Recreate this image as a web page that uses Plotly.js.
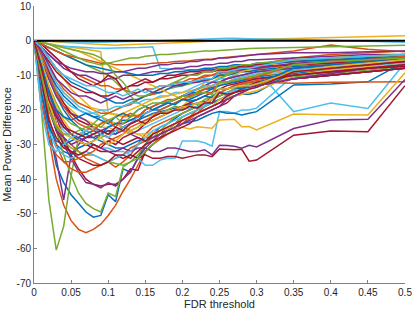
<!DOCTYPE html>
<html>
<head>
<meta charset="utf-8">
<script src="https://cdn.plot.ly/plotly-3.0.1.min.js"></script>
<style>html,body{margin:0;padding:0;background:#fff;}#chart{width:415px;height:312px;}</style>
</head>
<body>
<div id="chart"></div>
<script>
// FDR thresholds (x values shared by all series)
const fdrThreshold = [0,0.01,0.02,0.03,0.04,0.05,0.06,0.07,0.08,0.09,0.10,0.11,0.12,0.13,0.14,0.15,0.16,0.17,0.18,0.19,0.20,0.21,0.22,0.23,0.24,0.25,0.26,0.27,0.28,0.29,0.30,0.35,0.40,0.45,0.50];

// Mean power difference series
const s01 = [0,-10,-25,-36,-41,-44.5,-47,-49.5,-51,-50.5,-44.5,-46.5,-37,-38,-34,-30,-27,-25,-24,-22.5,-21,-20,-19,-18,-17,-16,-15,-14,-13.5,-13,-12.5,-11,-10,-9,-8];
const s02 = [0,-12,-28,-40,-47.5,-52,-54.5,-55.5,-54.5,-53,-50.5,-47.5,-43.5,-40,-36,-32,-30,-28.5,-27,-25.5,-24,-22.5,-21,-19,-17,-15,-14,-13,-12.5,-12,-11.5,-10,-9,-8,-7];
const s03 = [0,-0.5,-1,-1.3,-1.6,-1.8,-2.2,-2.5,-2.8,-3.2,-21,-21.3,-21.5,-21.6,-21.8,-22,-21.5,-21,-20.5,-20,-19,-17,-15,-12,-11,-10.5,-10,-9.5,-9,-8.5,-8,-7,-6,-5.5,-5];
const s04 = [0,-15,-28,-34,-46,-33,-30,-28,-27,-26,-25,-24,-24,-23,-22,-21,-20,-19,-18,-17,-16,-15.5,-15,-14,-13.5,-13,-12,-11.5,-11,-10.5,-10,-9,-8,-7.5,-7];
const s05 = [0,-20,-46,-60.5,-53.6,-39,-28,-26,-24,-22,-21,-20,-19,-18,-17,-16,-15.5,-15,-14,-13.5,-13,-12.5,-12,-11.5,-11,-10,-9.5,-9,-8.5,-8,-8,-7,-6.5,-6,-5.5];
const s06 = [0,-0.5,-1,-1.3,-1.6,-1.8,-2,-2,-2.1,-2.2,-2.2,-2.1,-2.1,-2.2,-2,-1.9,-1.8,-8,-8.2,-8.3,-8.4,-8.5,-8.5,-8.6,-8.5,-8.6,-8.5,-8.5,-8.4,-8.5,-8.5,-20.5,-18,-19.6,-6.4];
const s07 = [0,-5,-14,-22,-28,-33,-37,-40,-41.5,-42,-41.5,-41.5,-40,-37,-37.5,-32,-30,-28,-26,-25,-23,-22,-21,-20,-19,-18,-17,-16,-15,-14,-13,-11,-10,-9,-8];

const s08 = [0,-12,-24,-30,-32,-33,-31,-30,-29,-27,-26,-27,-25,-24,-23,-21,-20,-20,-19,-18,-17,-17,-16,-15,-14,-13,-12.5,-12,-11.5,-11,-11,-9.5,-8.5,-7.5,-6.5];
const s09 = [0,-8,-17,-24,-28,-30,-32,-34,-35,-36,-35,-36.5,-35,-33,-30,-27,-25,-24,-23,-22,-21,-20,-19,-18,-17,-16,-15,-14,-13.5,-13,-12.5,-11,-10,-9,-8];
const s10 = [0,-3,-8,-12,-15,-17,-18,-19,-19.5,-20,-21,-21.5,-22,-22,-21.5,-21,-20,-19,-18,-17,-16,-15,-14,-13,-12,-11,-10,-9.5,-9,-8.5,-8,-7,-6,-5,-4.5];
const s11 = [0,-6,-15,-24,-30,-34,-38,-41,-41.5,-42.5,-41,-42,-40,-38,-34,-31,-29,-27,-25,-24,-22,-21,-20,-19,-18,-17,-16,-15,-14,-13.5,-13,-11,-10,-9,-8];
const s12 = [0,-6,-16,-26,-33,-39,-44,-47,-48.5,-49.5,-44,-45,-36.5,-35,-33,-30,-28,-26,-24,-22,-21,-20,-19,-18,-17,-16,-15,-14,-13,-12.5,-12,-10.5,-9.5,-8.5,-7.5];
const s13 = [0,-8,-16,-22,-26,-28,-29,-30,-30,-31,-31,-32,-32,-33,-34,-36,-36,-34.5,-34,-34,-29,-29,-29,-29.5,-30.5,-20.5,-20.5,-21,-20,-20,-19.5,-10,-9,-8,-6.5];
const s14 = [0,-6,-14,-20,-24,-27,-29,-30,-31,-32,-32,-33,-34,-33,-34,-33,-34,-34,-33.5,-33.5,-34,-33.5,-33,-33,-33.5,-31.3,-31.5,-31.5,-31.4,-34.8,-34.5,-27.3,-26.1,-26.3,-13];

const s15 = [0,-5,-11,-16,-20,-23,-25,-27,-28,-29,-30,-31,-31,-30,-29,-28,-28,-27,-26,-25,-24,-23.5,-23,-22,-21,-20.5,-21,-21,-21.5,-21,-20.5,-12.8,-12.5,-11.9,-6.1];
const s16 = [0,-10,-22,-30,-35,-37,-38,-38,-37,-36,-35,-34,-33,-31,-30,-29,-28,-27,-26,-25,-24,-22,-20,-18,-16,-15,-14,-13,-12.5,-12,-12,-12.3,-12,-12,-11.9];
const s17 = [0,-4,-10,-15,-18,-20,-22,-23,-24,-25,-25,-26,-26,-26.5,-27,-27,-26.5,-26,-25.5,-25,-25,-25.5,-24.9,-25,-25.3,-22.9,-22.8,-22.7,-24.9,-24.8,-25.8,-21.2,-21.4,-21.5,-9.3];
const s18 = [0,-7,-15,-21,-25,-27,-28,-29,-30,-31,-32,-32,-31,-32,-31,-31,-32,-32,-31,-31,-31.5,-32,-32,-31.5,-33,-30.2,-30.3,-30.5,-31.1,-30.2,-30.7,-25.4,-22.9,-22.7,-11.2];
const s19 = [0,-8,-18,-25,-29,-31,-32,-33,-33,-34,-35,-35.5,-36,-35,-34,-32,-30,-28,-26,-24,-22,-21,-20,-19,-18,-17,-16,-15,-14,-13,-12,-10,-8.5,-7,-5];
const s20 = [0,-14,-26,-31,-33,-34,-33,-32,-33,-34,-35,-34,-33,-32,-30,-28,-26,-25,-24,-23,-22,-21,-20,-19,-18,-17,-16,-15,-14,-13,-12,-10,-9,-8,-7];
const s21 = [0,-9,-19,-26,-30,-32,-34,-35,-36,-36,-35,-33,-33,-34,-32,-30,-29,-28,-27,-26,-25,-24,-22,-21,-20,-19,-18,-16,-15,-14,-13,-11,-10,-9,-8];

const s22 = [0,-4,-9,-13,-16,-18,-20,-21,-22,-22,-23,-24,-25,-24,-23,-22,-21,-20.5,-20,-19.5,-19,-18.5,-18,-17.5,-18,-17,-16.5,-16,-15.5,-15.5,-15,-9,-8,-7,-6];
const s23 = [0,-3,-7,-11,-14,-16,-18,-19,-20,-21,-21,-20,-19,-18.5,-17,-16,-15.5,-15,-14,-13,-12.5,-12,-11,-10.5,-10,-9,-8.5,-8,-7.5,-7,-7,-5,-4,-3.5,-3];
const s24 = [0,-2,-5,-8,-11,-14,-16,-18,-20,-22,-23,-24,-25,-26,-27,-28,-27,-26,-25,-24,-23,-22,-21,-20,-19,-17,-16.5,-16,-15.5,-15,-14.5,-10,-8.5,-7.5,-6.5];
const s25 = [0,-5,-11,-16,-19,-21,-22,-23,-25,-26,-27,-27,-26,-27,-28,-29,-28,-27,-26,-25,-24,-23,-22,-21,-20,-19,-17,-16,-15,-14,-13,-11,-9.5,-8,-7];
const s26 = [0,-6,-13,-18,-22,-24,-25,-26,-27,-28,-27,-26,-25,-26,-25,-23,-22,-21,-20,-19,-19.5,-18,-18.5,-17,-16,-15,-16,-15,-14.5,-14,-13.5,-8.5,-7,-6,-5.5];
const s27 = [0,-3,-8,-12,-15,-17,-19,-20,-21,-22,-24,-25,-26,-27,-26,-25,-24,-23,-22,-21,-20,-19.5,-19,-18.5,-18,-15,-15,-14.5,-14,-14,-13.5,-9,-8,-7,-6];
const s28 = [0,-4,-9,-14,-18,-21,-23,-24,-25,-27,-28,-29,-30,-29,-28,-29,-27,-26,-25,-24,-23,-22,-21,-20,-19,-18,-16,-15,-14,-13,-12,-10,-9,-8,-7.5];

const s29 = [0,-2,-5,-8,-10,-12,-13,-14,-15,-16,-17,-18,-18,-17,-17,-16,-15,-15,-14,-13,-13,-12,-12,-11,-11,-10,-10,-9.5,-9,-9,-8.5,-7.5,-7,-6.5,-6];
const s30 = [0,-1,-3,-5,-7,-9,-10,-11,-12,-13,-13,-14,-14,-15,-15,-14,-14,-13,-13,-12,-12,-11,-11,-10,-10,-9.5,-9,-9,-8.5,-8,-8,-7,-6.5,-6,-5.5];
const s31 = [0,-0.5,-1,-1.5,-2,-2.5,-3,-4,-5,-6,-7,-8,-9,-10,-11,-12,-13,-14,-15,-16,-17,-16,-15,-14,-13,-12,-11,-10,-9,-8,-7.5,-6,-5,-4.5,-4];
const s32 = [0,-2,-4,-6,-8,-9,-10,-10,-11,-12,-11,-11,-10,-10,-10,-9.5,-9,-9,-8.5,-8,-8,-7.5,-7.5,-7,-7,-6.5,-6.5,-6,-6,-5.5,-5.5,-5,-4.5,-4,-4];
const s33 = [0,-1,-2,-3,-4,-5,-6,-7,-8,-9,-10,-12,-14,-16,-18,-19,-20,-19,-18,-17,-16,-15,-14,-13,-12,-11,-10,-9,-8,-7.5,-7,-6,-5,-4.5,-4];
const s34 = [0,-5,-10,-14,-17,-19,-20,-21,-21,-20,-20,-19,-19,-18,-18,-17,-17,-16,-16,-15,-15,-14,-13,-12,-12,-11,-11,-10,-10,-9.5,-9,-8,-7.5,-7,-6.5];
const s35 = [0,-1,-3,-5,-7,-9,-11,-12,-13,-12,-10,-11,-14,-13,-12,-11,-12,-11,-10,-10,-9.5,-9,-9,-8.5,-8.5,-8,-8,-7.5,-7.5,-7,-7,-6,-5.5,-5,-5];

const s36 = [0,-1,-2,-3,-4,-5,-6,-7,-7.5,-8,-8.5,-9,-9,-9.5,-10,-10,-10,-9.5,-9.5,-9,-9,-8.5,-8.5,-8,-8,-7.5,-7.5,-7,-7,-7,-6.5,-6,-5.5,-5,-4.5];
const s37 = [0,-1,-2,-3,-4,-4.5,-5,-5.5,-6,-6.5,-6.5,-7,-7,-7,-7,-6.8,-6.5,-6.5,-6.3,-6,-6,-5.8,-5.5,-5.5,-5.3,-5,-4.8,-4.5,-4.3,-4,-3.8,-3,-1.3,-2.5,-3.2];
const s38 = [0,0,-0.2,-0.4,-0.5,-0.6,-0.8,-1,-1,-1.2,-1.3,-1.3,-1.2,-1.2,-1,-1,-0.9,-0.8,-0.7,-0.6,-0.5,-0.4,-0.3,-0.2,-0.1,0,0.1,0.2,0.3,0.3,0.4,0.6,0.9,1.2,1.4];
const s39 = [0,-2,-4,-6,-7,-8,-8.5,-9,-9,-9.5,-9.5,-9,-9,-8.5,-8,-8,-7.5,-7,-7,-6.5,-6.5,-6,-6,-5.5,-5.5,-5,-5,-4.8,-4.5,-4.3,-4,-3.5,-3.5,-3.2,-3];
const s40 = [0,-0.5,-1,-2,-3,-4,-5,-6,-6.5,-7,-6.5,-6,-5.5,-5,-5,-4.5,-4.3,-4,-4,-3.8,-3.5,-3.5,-3.2,-3,-3,-2.8,-2.6,-2.5,-2.4,-2.3,-2.2,-2,-1.8,-1.5,-1.3];
const s41 = [0,0,-0.1,-0.2,-0.3,-0.4,-0.4,-0.5,-0.5,-0.5,-0.4,-0.4,-0.3,-0.3,-0.2,-0.2,-0.1,0,0.1,0.2,0.3,0.4,0.5,0.6,0.6,0.7,0.7,0.7,0.7,0.6,0.5,0.3,0,-0.3,-0.5];
const s42 = [0,-3,-6,-9,-11,-13,-14,-15,-15,-16,-16,-15,-14,-13,-13,-12,-12,-11,-11,-10.5,-10,-10,-9.5,-9,-9,-8.5,-8.5,-8,-8,-7.5,-7.5,-7,-6.5,-6,-5.5];

const s43 = [0,-15,-25,-29,-30,-29,-28,-27,-26,-27,-25,-24,-23,-23,-22,-20,-19,-18,-18,-17,-16,-15,-15,-14,-14,-13,-12,-12,-11.5,-11,-10.5,-9,-8,-7,-6];
const s44 = [0,-18,-28,-33,-35,-35,-34,-33,-32,-30,-29,-28,-27,-25,-24,-23,-22,-20,-19,-18,-17,-16,-15,-14,-13,-12,-11,-10.5,-10,-9.5,-9,-8,-7,-6,-5];
const s45 = [0,-6,-13,-19,-23,-26,-27,-26,-25,-24,-23,-22,-21,-20,-19,-18,-17,-16.5,-16,-15.5,-15,-14.5,-14,-13.5,-13,-12.5,-12,-11.5,-11,-10.5,-10,-9,-8,-7,-6];
const s46 = [0,-10,-20,-26,-28,-30,-29,-28,-28,-27,-26,-26,-25,-24,-22,-21,-20,-19,-18,-17,-16,-15,-14,-13,-12,-12,-11,-10.5,-10,-9.5,-9,-8,-7.5,-7,-6];
const s47 = [0,-0.5,-1,-1.5,-2,-2.5,-3,-3.5,-4,-5,-7,-10,-12,-15,-16,-16,-15,-14,-13,-12,-11,-10,-10,-9,-9,-8,-8,-7.5,-7,-7,-6.5,-5.5,-5,-4.5,-4];
const s48 = [0,-20,-30,-32,-30,-28,-27,-26,-25,-27,-28,-26,-25,-24,-22,-21,-20,-19,-18,-17,-16,-15,-14,-13,-13,-12,-12,-11,-10.5,-10,-9.5,-8.5,-7.5,-6.5,-5.5];
const s49 = [0,-12,-23,-28,-31,-32,-33,-32,-30,-31,-29,-30,-28,-27,-26,-24,-23,-22,-21,-20,-19,-18,-17,-16,-15,-14,-13,-12.5,-12,-11.5,-11,-10,-9,-8,-7];

const s50 = [0,-7,-15,-20,-22,-23,-22,-21,-22,-23,-24,-22,-21,-22,-20,-19,-20,-19,-18,-18.5,-17,-17.5,-17,-16,-16.5,-14,-14,-13.5,-14,-13,-12.5,-8,-7,-6,-5];
const s51 = [0,-4,-10,-15,-19,-22,-24,-25,-26,-24,-23,-25,-22,-21,-22,-20,-19,-18,-17,-17,-16,-16,-15.5,-15,-15,-12,-12,-11.5,-11,-11,-10.5,-7,-6,-5.5,-4.5];
const s52 = [0,-9,-18,-24,-27,-28,-29,-30,-29,-28,-30,-29,-27,-26,-25,-24,-23,-22,-21,-20,-19,-19,-18,-18,-17,-14,-14,-13.5,-13,-13,-12.5,-9,-7.5,-6.5,-5.5];
const s53 = [0,-3,-7,-11,-13,-15,-16,-16,-17,-18,-17,-16,-17,-16,-15,-14,-15,-14,-13,-13,-12.5,-12,-12,-11.5,-11,-9,-9,-8.5,-8.5,-8,-8,-6.5,-6,-5.5,-5];
const s54 = [0,-10,-20,-25,-27,-27,-26,-25,-24,-25,-23,-22,-24,-22,-20,-19,-18,-18,-17.5,-17,-16,-16.5,-15,-15,-15.5,-12,-12,-11.5,-11,-10.5,-10,-7,-6,-5.5,-5];
const s55 = [0,-2,-5,-8,-10,-11,-12,-13,-13,-14,-15,-15,-16,-15,-14,-15,-14,-13,-13,-12.5,-12,-12,-11.5,-11,-11,-9,-9,-8.5,-8,-8,-7.5,-5.5,-5,-4.5,-4];
const s56 = [0,-8,-17,-22,-25,-26,-27,-28,-27,-26,-27,-25,-26,-24,-23,-24,-22,-21,-21,-20,-20,-19,-19.5,-18,-18,-15,-15.5,-15,-14.5,-14,-13.5,-9,-8,-7,-6];

const allSeries = [s01,s02,s03,s04,s05,s06,s07,s08,s09,s10,s11,s12,s13,s14,s15,s16,s17,s18,s19,s20,s21,s22,s23,s24,s25,s26,s27,s28,s29,s30,s31,s32,s33,s34,s35,s36,s37,s38,s39,s40,s41,s42,s43,s44,s45,s46,s47,s48,s49,s50,s51,s52,s53,s54,s55,s56];

// Reference line
const zeroLineX = [0, 0.5];
const zeroLineY = [0, 0];

// Axis ticks
const xTickVals = [0,0.05,0.1,0.15,0.2,0.25,0.3,0.35,0.4,0.45,0.5];
const xTickText = ['0','0.05','0.1','0.15','0.2','0.25','0.3','0.35','0.4','0.45','0.5'];
const yTickVals = [-70,-60,-50,-40,-30,-20,-10,0,10];
const yTickText = ['-70','-60','-50','-40','-30','-20','-10','0','10'];

// MATLAB default colour order
const colorOrder = ['#0072BD','#D95319','#EDB120','#7E2F8E','#77AC30','#4DBEEE','#A2142F'];

const traces = allSeries.map((ys, i) => ({
  x: fdrThreshold, y: ys, type: 'scatter', mode: 'lines',
  line: {color: colorOrder[i % 7], width: 1.5}, hoverinfo: 'skip', showlegend: false
}));
traces.push({x: zeroLineX, y: zeroLineY, type: 'scatter', mode: 'lines',
  line: {color: '#000000', width: 2}, hoverinfo: 'skip', showlegend: false});

const axisFont = {family: 'Liberation Sans, Arial, Helvetica, sans-serif', size: 10, color: '#262626'};

const layout = {
  width: 415, height: 312,
  margin: {l: 34, r: 10, t: 6, b: 29, pad: 0},
  paper_bgcolor: '#ffffff', plot_bgcolor: '#ffffff',
  showlegend: false,
  xaxis: {
    range: [0, 0.5], tickvals: xTickVals, ticktext: xTickText,
    ticks: 'inside', ticklen: 3, tickcolor: '#808080', tickwidth: 1,
    showline: true, linecolor: '#808080', linewidth: 1, mirror: false,
    showgrid: false, zeroline: false, tickfont: axisFont,
    title: {text: 'FDR threshold', font: {family: axisFont.family, size: 11, color: '#262626'}, standoff: 3}
  },
  yaxis: {
    range: [-70, 10], tickvals: yTickVals, ticktext: yTickText,
    ticks: 'inside', ticklen: 3, tickcolor: '#808080', tickwidth: 1,
    showline: true, linecolor: '#808080', linewidth: 1, mirror: false,
    showgrid: false, zeroline: false, tickfont: axisFont,
    title: {text: 'Mean Power Difference', font: {family: axisFont.family, size: 11, color: '#262626'}, standoff: 2}
  }
};

Plotly.newPlot('chart', traces, layout, {displayModeBar: false, staticPlot: true});
</script>
</body>
</html>
